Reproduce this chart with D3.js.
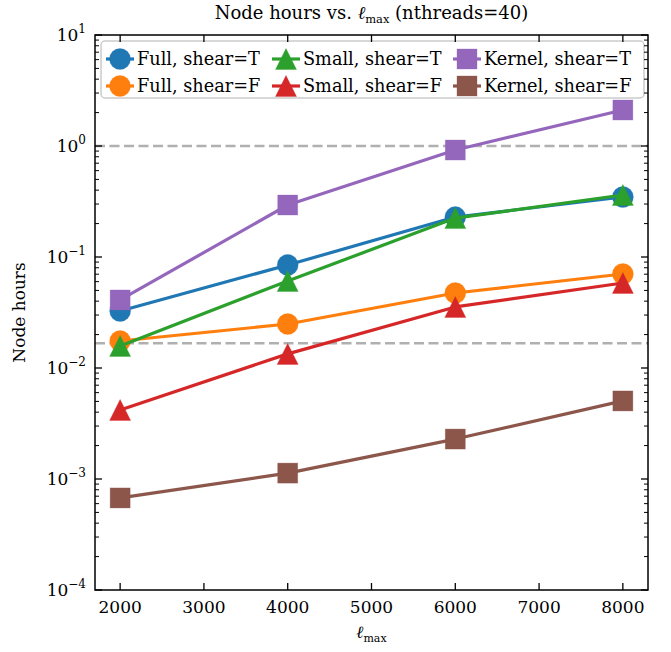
<!DOCTYPE html>
<html><head><meta charset="utf-8">
<script src="https://cdn.jsdelivr.net/npm/d3@7"></script>
<style>body{margin:0;background:#fff}svg{display:block}text{font-family:"DejaVu Serif",serif;fill:#000}</style>
</head><body>
<svg id="c" width="671" height="652"></svg>
<script>
const lmax = [2000, 4000, 6000, 8000];
const seriesNames = ["Full, shear=T","Full, shear=F","Small, shear=T","Small, shear=F","Kernel, shear=T","Kernel, shear=F"];
const fullT = [0.0326, 0.0847, 0.229, 0.347];
const fullF = [0.0175, 0.0249, 0.0474, 0.0703];
const smallT = [0.0158, 0.0608, 0.224, 0.362];
const smallF = [0.00419, 0.0134, 0.0355, 0.0583];
const kernelT = [0.041, 0.294, 0.92, 2.11];
const kernelF = [0.000675, 0.00113, 0.00229, 0.00505];
const refLines = [1, 1/60];
const xTicks = [2000,3000,4000,5000,6000,7000,8000];
const yExps = [-4,-3,-2,-1,0,1];

const colors = ["#1f77b4","#ff7f0e","#2ca02c","#d62728","#9467bd","#8c564b"];
const shapes = ["circle","circle","triangle","triangle","square","square"];
const data = [fullT, fullF, smallT, smallF, kernelT, kernelF];

const L=95, R=648, T=35, B=590;
const x = d3.scaleLinear().domain([1700, 8300]).range([L, R]);
const y = d3.scaleLog().domain([1e-4, 1e1]).range([B, T]);
const svg = d3.select("#c");
const FS = 17;

// reference dashed lines
svg.selectAll("line.ref").data(refLines).enter().append("line")
  .attr("x1", L).attr("x2", R).attr("y1", d=>y(d)).attr("y2", d=>y(d))
  .attr("stroke", "#b0b0b0").attr("stroke-width", 2.5).attr("stroke-dasharray", "10,4.5");

function marker(g, shape, cx, cy, color) {
  if (shape === "circle") {
    g.append("circle").attr("cx", cx).attr("cy", cy).attr("r", 10.5)
      .attr("fill", color).attr("stroke", color).attr("stroke-opacity",0.4).attr("stroke-width", 0.8);
  } else if (shape === "triangle") {
    const s = 10.5;
    g.append("path").attr("d", `M${cx},${cy-s}L${cx-s},${cy+s}L${cx+s},${cy+s}Z`)
      .attr("fill", color).attr("stroke", color).attr("stroke-opacity",0.4).attr("stroke-width", 0.8);
  } else {
    const s = 10;
    g.append("rect").attr("x", cx-s).attr("y", cy-s).attr("width", 2*s).attr("height", 2*s)
      .attr("fill", color).attr("stroke", color).attr("stroke-opacity",0.4).attr("stroke-width", 0.8);
  }
}

const line = d3.line().x((d,i)=>x(lmax[i])).y(d=>y(d));
data.forEach((vals, k) => {
  const g = svg.append("g");
  g.append("path").attr("d", line(vals)).attr("fill","none")
    .attr("stroke", colors[k]).attr("stroke-width", 3.2).attr("stroke-linejoin","round");
  vals.forEach((v,i) => marker(g, shapes[k], x(lmax[i]), y(v), colors[k]));
});

// legend
const lg = svg.append("g");
lg.append("rect").attr("x", 101).attr("y", 41).attr("width", 543).attr("height", 57)
  .attr("rx", 4).attr("fill", "#fff").attr("fill-opacity", 0.8).attr("stroke", "#cccccc").attr("stroke-width", 1.5);
const colX = [106, 272, 453];
const rowY = [59, 86];
seriesNames.forEach((name, k) => {
  const cx0 = colX[Math.floor(k/2)], cy0 = rowY[k%2];
  lg.append("line").attr("x1", cx0).attr("x2", cx0+28).attr("y1", cy0).attr("y2", cy0)
    .attr("stroke", colors[k]).attr("stroke-width", 3.2);
  marker(lg, shapes[k], cx0+14, cy0, colors[k]);
  lg.append("text").attr("x", cx0+31).attr("y", cy0+6).attr("font-size", FS+0.7).text(name);
});

// ticks
const ax = svg.append("g");
const minorY = [];
for (let e=-4; e<1; e++) for (let m=2; m<10; m++) minorY.push(m*Math.pow(10,e));
xTicks.forEach(t => {
  ax.append("line").attr("x1", x(t)).attr("x2", x(t)).attr("y1", B).attr("y2", B-7).attr("stroke","#000").attr("stroke-width",1.3);
  ax.append("line").attr("x1", x(t)).attr("x2", x(t)).attr("y1", T).attr("y2", T+7).attr("stroke","#000").attr("stroke-width",1.3);
  ax.append("text").attr("x", x(t)).attr("y", B+23).attr("text-anchor","middle").attr("font-size", FS).text(t);
});
yExps.forEach(e => {
  const v = Math.pow(10,e);
  ax.append("line").attr("x1", L).attr("x2", L+7).attr("y1", y(v)).attr("y2", y(v)).attr("stroke","#000").attr("stroke-width",1.3);
  ax.append("line").attr("x1", R).attr("x2", R-7).attr("y1", y(v)).attr("y2", y(v)).attr("stroke","#000").attr("stroke-width",1.3);
  const tx = ax.append("text").attr("x", 86).attr("y", y(v)+6).attr("text-anchor","end").attr("font-size", FS);
  tx.append("tspan").text("10");
  tx.append("tspan").attr("dy", -8).attr("font-size", 12).text(e<0 ? "\u2212"+(-e) : String(e));
});
minorY.forEach(v => {
  ax.append("line").attr("x1", L).attr("x2", L+4).attr("y1", y(v)).attr("y2", y(v)).attr("stroke","#000").attr("stroke-width",1);
  ax.append("line").attr("x1", R).attr("x2", R-4).attr("y1", y(v)).attr("y2", y(v)).attr("stroke","#000").attr("stroke-width",1);
});
svg.append("rect").attr("x", L).attr("y", T).attr("width", R-L).attr("height", B-T)
  .attr("fill","none").attr("stroke","#000").attr("stroke-width",1.5);

// title & labels
const cxp = (L+R)/2;
const title = svg.append("text").attr("x", cxp).attr("y", 19).attr("text-anchor","middle").attr("font-size", 18);
title.append("tspan").text("Node hours vs. ");
title.append("tspan").attr("font-style","italic").text("\u2113");
title.append("tspan").attr("dy", 4).attr("font-size", 11.5).text("max");
title.append("tspan").attr("dy", -4).text(" (nthreads=40)");
const xl = svg.append("text").attr("x", cxp).attr("y", 638).attr("text-anchor","middle").attr("font-size", FS);
xl.append("tspan").attr("font-style","italic").text("\u2113");
xl.append("tspan").attr("dy", 4).attr("font-size", 11).text("max");
svg.append("text").attr("transform", `translate(25,${(T+B)/2}) rotate(-90)`).attr("text-anchor","middle")
  .attr("font-size", FS).text("Node hours");
</script>
</body></html>
